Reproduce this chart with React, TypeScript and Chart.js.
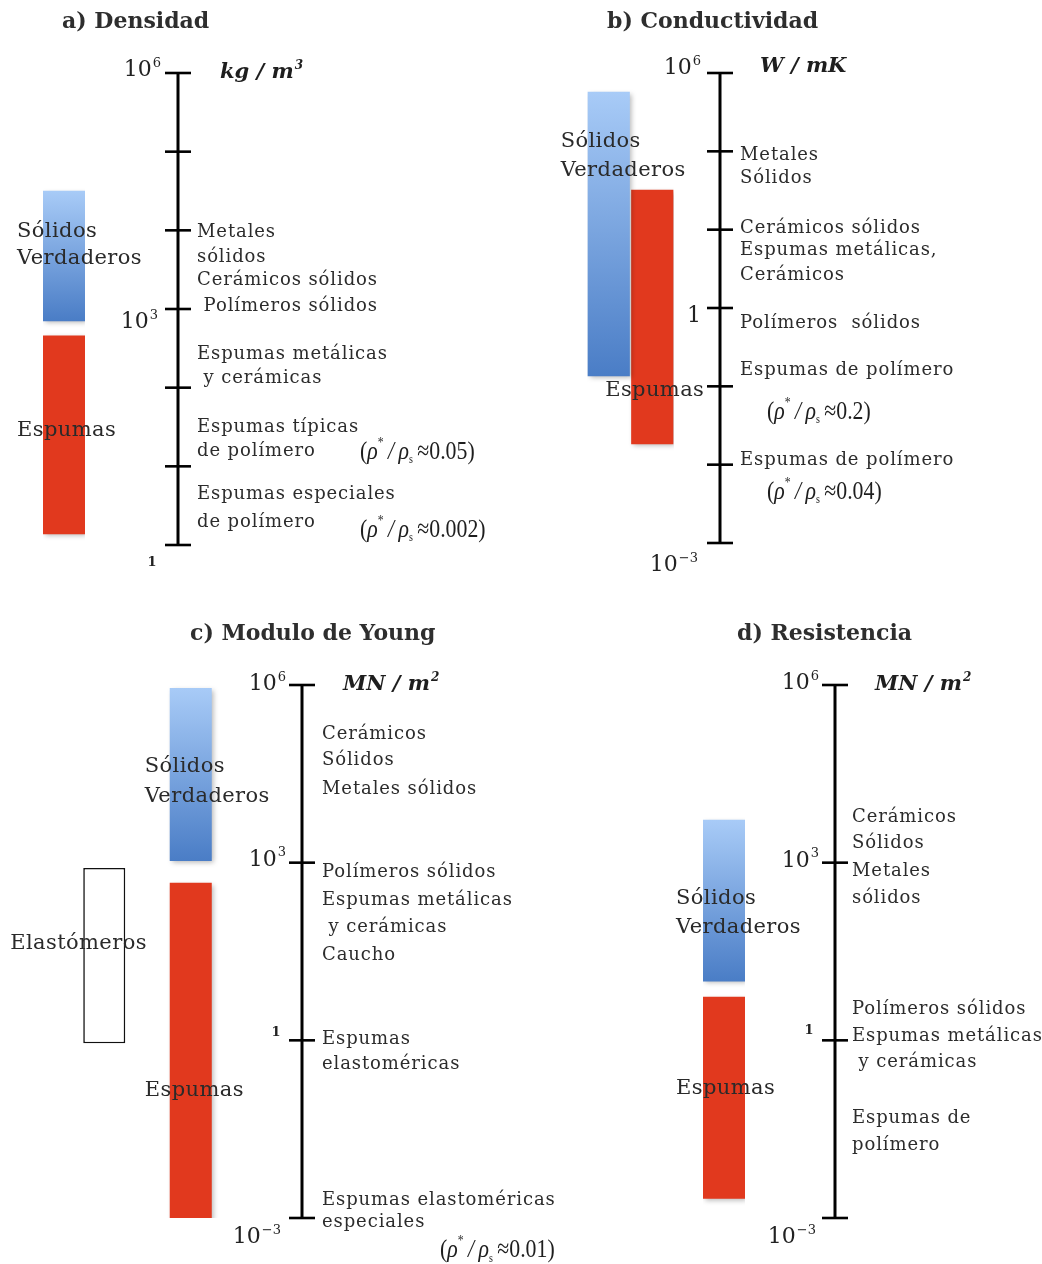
import React, { useEffect, useRef } from "react";
import { Chart, registerables } from "chart.js";

Chart.register(...registerables);

// ================= DATA =================
// a) Densidad — axis unit: log10(kg/m³)
const densityCategories = ["Materiales"];
const densitySolids = [[2.85, 4.5]];
const densityFoams = [[0.14, 2.66]];
const densityTicks = [0, 1, 2, 3, 4, 5, 6];
const densityTickLabels = ["1", "", "", "10^3", "", "", "10^6"];
const densityUnit = "kg / m^3";
const densitySolidsText = ["Sólidos", "Verdaderos"];
const densitySolidsTextAt = [3.98, 3.64];
const densityFoamsText = ["Espumas"];
const densityFoamsTextAt = [1.46];
const densityNotes = [
  { at: 3.97, text: "Metales" },
  { at: 3.66, text: "sólidos" },
  { at: 3.36, text: "Cerámicos sólidos" },
  { at: 3.04, text: " Polímeros sólidos" },
  { at: 2.43, text: "Espumas metálicas" },
  { at: 2.12, text: " y cerámicas" },
  { at: 1.5, text: "Espumas típicas" },
  { at: 1.19, text: "de polímero" },
  { at: 0.65, text: "Espumas especiales" },
  { at: 0.29, text: "de polímero" },
];
const densityRatios = [
  { at: 1.21, value: "0.05" },
  { at: 0.22, value: "0.002" },
];

// b) Conductividad — axis unit: tick position (0 = 10⁻³, 3 = 1, 6 = 10⁶)
const conductivityCategories = ["Materiales"];
const conductivitySolids = [[2.13, 5.76]];
const conductivityFoams = [[1.26, 4.51]];
const conductivityTicks = [0, 1, 2, 3, 4, 5, 6];
const conductivityTickLabels = ["10^-3", "", "", "1", "", "", "10^6"];
const conductivityUnit = "W / mK";
const conductivitySolidsText = ["Sólidos", "Verdaderos"];
const conductivitySolidsTextAt = [5.12, 4.76];
const conductivityFoamsText = ["Espumas"];
const conductivityFoamsTextAt = [1.95];
const conductivityNotes = [
  { at: 4.95, text: "Metales" },
  { at: 4.66, text: "Sólidos" },
  { at: 4.02, text: "Cerámicos sólidos" },
  { at: 3.73, text: "Espumas metálicas," },
  { at: 3.42, text: "Cerámicos" },
  { at: 2.81, text: "Polímeros  sólidos" },
  { at: 2.21, text: "Espumas de polímero" },
  { at: 1.06, text: "Espumas de polímero" },
];
const conductivityRatios = [
  { at: 1.7, value: "0.2" },
  { at: 0.68, value: "0.04" },
];

// c) Modulo de Young — axis unit: log10(MN/m²)
const youngCategories = ["Elastómeros", "Sólidos y espumas"];
const youngElastomers = [[-0.05, 2.91], null];
const youngSolids = [null, [3.03, 5.95]];
const youngFoams = [null, [-3.04, 2.66]];
const youngTicks = [-3, 0, 3, 6];
const youngTickLabels = ["10^-3", "1", "10^3", "10^6"];
const youngUnit = "MN / m^2";
const youngElastomersText = ["Elastómeros"];
const youngElastomersTextAt = [1.64];
const youngSolidsText = ["Sólidos", "Verdaderos"];
const youngSolidsTextAt = [4.62, 4.11];
const youngFoamsText = ["Espumas"];
const youngFoamsTextAt = [-0.84];
const youngNotes = [
  { at: 5.17, text: "Cerámicos" },
  { at: 4.72, text: "Sólidos" },
  { at: 4.23, text: "Metales sólidos" },
  { at: 2.83, text: "Polímeros sólidos" },
  { at: 2.37, text: "Espumas metálicas" },
  { at: 1.91, text: " y cerámicas" },
  { at: 1.44, text: "Caucho" },
  { at: 0.02, text: "Espumas" },
  { at: -0.4, text: "elastoméricas" },
  { at: -2.7, text: "Espumas elastoméricas" },
  { at: -3.08, text: "especiales" },
];
const youngRatios = [{ at: -3.51, value: "0.01" }];

// d) Resistencia — axis unit: log10(MN/m²)
const strengthCategories = ["Materiales"];
const strengthSolids = [[1.0, 3.72]];
const strengthFoams = [[-2.67, 0.73]];
const strengthTicks = [-3, 0, 3, 6];
const strengthTickLabels = ["10^-3", "1", "10^3", "10^6"];
const strengthUnit = "MN / m^2";
const strengthSolidsText = ["Sólidos", "Verdaderos"];
const strengthSolidsTextAt = [2.4, 1.9];
const strengthFoamsText = ["Espumas"];
const strengthFoamsTextAt = [-0.81];
const strengthNotes = [
  { at: 3.77, text: "Cerámicos" },
  { at: 3.32, text: "Sólidos" },
  { at: 2.86, text: "Metales" },
  { at: 2.4, text: "sólidos" },
  { at: 0.53, text: "Polímeros sólidos" },
  { at: 0.07, text: "Espumas metálicas" },
  { at: -0.37, text: " y cerámicas" },
  { at: -1.31, text: "Espumas de" },
  { at: -1.77, text: "polímero" },
];
const strengthRatios: { at: number; value: string }[] = [];

// ================= STYLE / LAYOUT =================
const SERIF = '"DejaVu Serif", serif';
const TIMES = '"Liberation Serif", serif';
const TEXT_COLOR = "#2c2c2c";
const RED = "#e1391e";
const BLUE_TOP = "#a8cbf7";
const BLUE_BOTTOM = "#4a7dc6";

type Placement = { x: number; dy: number; align?: string; small?: boolean };

const PANELS = [
  {
    title: "a) Densidad",
    categories: densityCategories,
    series: [
      { label: "Sólidos Verdaderos", kind: "solid", data: densitySolids, text: densitySolidsText, textAt: densitySolidsTextAt },
      { label: "Espumas", kind: "foam", data: densityFoams, text: densityFoamsText, textAt: densityFoamsTextAt },
    ],
    grouped: false,
    ticks: densityTicks,
    tickLabels: densityTickLabels,
    unit: densityUnit,
    notes: densityNotes,
    ratios: densityRatios,
    layout: {
      canvas: { x: 0, y: 0, w: 520, h: 592 },
      plot: { left: 43, right: 85, top: 73, bottom: 545 },
      yMin: 0, yMax: 6,
      barPercentage: 1,
      axisX: 178,
      titlePos: { x: 62, y: 22 },
      labelPlacement: {
        "6": { x: 161, dy: -5 },
        "3": { x: 158, dy: 11 },
        "0": { x: 152, dy: 18, align: "center", small: true },
      } as Record<string, Placement>,
      unitPos: { x: 220, y: 70 },
      notesX: 197,
      ratioX: 360,
      textDx: [-26, -26],
    },
  },
  {
    title: "b) Conductividad",
    categories: conductivityCategories,
    series: [
      { label: "Sólidos Verdaderos", kind: "solid", data: conductivitySolids, text: conductivitySolidsText, textAt: conductivitySolidsTextAt },
      { label: "Espumas", kind: "foam", data: conductivityFoams, text: conductivityFoamsText, textAt: conductivityFoamsTextAt },
    ],
    grouped: true,
    ticks: conductivityTicks,
    tickLabels: conductivityTickLabels,
    unit: conductivityUnit,
    notes: conductivityNotes,
    ratios: conductivityRatios,
    layout: {
      canvas: { x: 520, y: 0, w: 522, h: 592 },
      plot: { left: 587, right: 674, top: 73, bottom: 543 },
      yMin: 0, yMax: 6,
      barPercentage: 0.97,
      axisX: 720,
      titlePos: { x: 607, y: 22 },
      labelPlacement: {
        "6": { x: 701, dy: -7 },
        "3": { x: 701, dy: 6 },
        "0": { x: 698, dy: 20 },
      } as Record<string, Placement>,
      unitPos: { x: 760, y: 64 },
      notesX: 740,
      ratioX: 767,
      textDx: [-27, -26],
    },
  },
  {
    title: "c) Modulo de Young",
    categories: youngCategories,
    series: [
      { label: "Elastómeros", kind: "elastomer", data: youngElastomers, text: youngElastomersText, textAt: youngElastomersTextAt },
      { label: "Sólidos Verdaderos", kind: "solid", data: youngSolids, text: youngSolidsText, textAt: youngSolidsTextAt },
      { label: "Espumas", kind: "foam", data: youngFoams, text: youngFoamsText, textAt: youngFoamsTextAt },
    ],
    grouped: false,
    ticks: youngTicks,
    tickLabels: youngTickLabels,
    unit: youngUnit,
    notes: youngNotes,
    ratios: youngRatios,
    layout: {
      canvas: { x: 0, y: 600, w: 600, h: 664 },
      plot: { left: 61, right: 234, top: 685, bottom: 1218 },
      yMin: -3, yMax: 6,
      barPercentage: 0.486,
      axisX: 302,
      titlePos: { x: 190, y: 634 },
      labelPlacement: {
        "6": { x: 286, dy: -3 },
        "3": { x: 286, dy: -5 },
        "0": { x: 276, dy: -8, align: "center", small: true },
        "-3": { x: 281, dy: 17 },
      } as Record<string, Placement>,
      unitPos: { x: 343, y: 682 },
      notesX: 322,
      ratioX: 440,
      textDx: [-73, -25, -25],
    },
  },
  {
    title: "d) Resistencia",
    categories: strengthCategories,
    series: [
      { label: "Sólidos Verdaderos", kind: "solid", data: strengthSolids, text: strengthSolidsText, textAt: strengthSolidsTextAt },
      { label: "Espumas", kind: "foam", data: strengthFoams, text: strengthFoamsText, textAt: strengthFoamsTextAt },
    ],
    grouped: false,
    ticks: strengthTicks,
    tickLabels: strengthTickLabels,
    unit: strengthUnit,
    notes: strengthNotes,
    ratios: strengthRatios,
    layout: {
      canvas: { x: 600, y: 600, w: 442, h: 664 },
      plot: { left: 703, right: 745, top: 685, bottom: 1218 },
      yMin: -3, yMax: 6,
      barPercentage: 1,
      axisX: 835,
      titlePos: { x: 737, y: 634 },
      labelPlacement: {
        "6": { x: 819, dy: -4 },
        "3": { x: 819, dy: -4 },
        "0": { x: 809, dy: -10, align: "center", small: true },
        "-3": { x: 816, dy: 17 },
      } as Record<string, Placement>,
      unitPos: { x: 875, y: 682 },
      notesX: 852,
      ratioX: 870,
      textDx: [-27, -27],
    },
  },
];

// ================= DRAW HELPERS =================
function drawPower(ctx: CanvasRenderingContext2D, label: string, x: number, yMid: number, align: string, size: number, family: string, style = "") {
  const [base, expRaw] = label.split("^");
  const exp = expRaw ? expRaw.replace("-", "\u2212") : "";
  const es = Math.round(size * 0.58);
  ctx.font = `${style} ${size}px ${family}`;
  const wb = ctx.measureText(base).width;
  let we = 0;
  if (exp) {
    ctx.font = `${style} ${es}px ${family}`;
    we = ctx.measureText(exp).width + 1;
  }
  const total = wb + we;
  const x0 = align === "right" ? x - total : align === "center" ? x - total / 2 : x;
  const baseline = yMid + size * 0.36;
  ctx.textAlign = "left";
  ctx.textBaseline = "alphabetic";
  ctx.font = `${style} ${size}px ${family}`;
  ctx.fillText(base, x0, baseline);
  if (exp) {
    ctx.font = `${style} ${es}px ${family}`;
    ctx.fillText(exp, x0 + wb + 1, baseline - size * 0.42);
  }
}

function drawRatio(ctx: CanvasRenderingContext2D, value: string, x: number, yMid: number, size: number) {
  const baseline = size * 0.34;
  ctx.save();
  ctx.translate(x, yMid);
  ctx.scale(0.84, 1);
  let cx = 0;
  ctx.textAlign = "left";
  ctx.textBaseline = "alphabetic";
  const seg = (t: string, font: string, dy = 0) => {
    ctx.font = font;
    ctx.fillText(t, cx, baseline + dy);
    cx += ctx.measureText(t).width;
  };
  seg("(", `${size}px ${TIMES}`);
  seg("\u03c1", `italic ${size}px ${TIMES}`);
  seg("*", `${Math.round(size * 0.55)}px ${TIMES}`, -size * 0.45);
  seg("\u2009/\u2009", `italic ${size}px ${TIMES}`);
  seg("\u03c1", `italic ${size}px ${TIMES}`);
  seg("s", `${Math.round(size * 0.45)}px ${TIMES}`, size * 0.18);
  seg("\u2009\u2248", `${size}px ${TIMES}`);
  seg(value + ")", `${size}px ${TIMES}`);
  ctx.restore();
}

function makeFigurePlugin(panel: any) {
  const L = panel.layout;
  return {
    id: "figure",
    beforeDatasetDraw(chart: any, args: any) {
      const ds = chart.data.datasets[args.index];
      if (ds.shadow) {
        const c = chart.ctx;
        c.save();
        c.shadowColor = "rgba(0,0,0,0.28)";
        c.shadowBlur = 5;
        c.shadowOffsetX = 2;
        c.shadowOffsetY = 2;
      }
    },
    afterDatasetDraw(chart: any, args: any) {
      const ds = chart.data.datasets[args.index];
      if (ds.shadow) chart.ctx.restore();
    },
    afterDatasetsDraw(chart: any) {
      const ctx: CanvasRenderingContext2D = chart.ctx;
      const y = chart.scales.y;
      const ox = L.canvas.x;
      const oy = L.canvas.y;
      const ax = L.axisX - ox;
      ctx.save();

      // title
      ctx.fillStyle = "#2e2e2e";
      ctx.font = `bold 22px ${SERIF}`;
      ctx.textAlign = "left";
      ctx.textBaseline = "middle";
      ctx.fillText(panel.title, L.titlePos.x - ox, L.titlePos.y - oy);

      // axis line and tick marks
      ctx.strokeStyle = "#000";
      ctx.lineCap = "butt";
      ctx.lineWidth = 3;
      const yTop = y.getPixelForValue(L.yMax);
      const yBot = y.getPixelForValue(L.yMin);
      ctx.beginPath();
      ctx.moveTo(ax, yTop - 1);
      ctx.lineTo(ax, yBot + 1);
      ctx.stroke();
      ctx.lineWidth = 2.6;
      panel.ticks.forEach((t: number) => {
        const py = y.getPixelForValue(t);
        ctx.beginPath();
        ctx.moveTo(ax - 13, py);
        ctx.lineTo(ax + 13, py);
        ctx.stroke();
      });

      // tick labels
      ctx.fillStyle = "#222";
      panel.ticks.forEach((t: number, i: number) => {
        const lab = panel.tickLabels[i];
        if (!lab) return;
        const pl: Placement = L.labelPlacement[String(t)];
        if (!pl) return;
        const py = y.getPixelForValue(t) + pl.dy;
        if (pl.small) {
          ctx.font = `bold 13px ${SERIF}`;
          ctx.textAlign = "center";
          ctx.textBaseline = "middle";
          ctx.fillText(lab, pl.x - ox, py);
        } else {
          drawPower(ctx, lab, pl.x - ox, py, pl.align || "right", 22, SERIF);
        }
      });

      // unit
      ctx.fillStyle = "#1e1e1e";
      drawPower(ctx, panel.unit, L.unitPos.x - ox, L.unitPos.y - oy, "left", 21, SERIF, "italic bold");

      // notes beside the axis
      ctx.fillStyle = TEXT_COLOR;
      ctx.font = `18px ${SERIF}`;
      (ctx as any).letterSpacing = "0.9px";
      ctx.textAlign = "left";
      ctx.textBaseline = "middle";
      panel.notes.forEach((n: any) => {
        ctx.fillText(n.text, L.notesX - ox, y.getPixelForValue(n.at));
      });
      (ctx as any).letterSpacing = "0px";

      // density ratio notes
      ctx.fillStyle = "#1e1e1e";
      panel.ratios.forEach((r: any) => {
        drawRatio(ctx, r.value, L.ratioX - ox, y.getPixelForValue(r.at), 26);
      });

      // series labels
      ctx.fillStyle = "#2a2a2a";
      ctx.font = `21px ${SERIF}`;
      (ctx as any).letterSpacing = "0.4px";
      ctx.textAlign = "left";
      ctx.textBaseline = "middle";
      chart.data.datasets.forEach((ds: any, di: number) => {
        const meta = chart.getDatasetMeta(di);
        const idx = ds.data.findIndex((v: any) => v !== null);
        const el = meta.data[idx];
        if (!el) return;
        const left = el.x - el.width / 2;
        ds.text.forEach((line: string, li: number) => {
          ctx.fillText(line, left + L.textDx[di], y.getPixelForValue(ds.textAt[li]));
        });
      });
      (ctx as any).letterSpacing = "0px";
      ctx.restore();
    },
  };
}

function blueFill(c: any) {
  const chart = c.chart;
  const ys = chart.scales && chart.scales.y;
  const raw = c.raw;
  if (!ys || !Array.isArray(raw)) return BLUE_BOTTOM;
  const y0 = ys.getPixelForValue(raw[1]);
  const y1 = ys.getPixelForValue(raw[0]);
  if (!Number.isFinite(y0) || !Number.isFinite(y1) || y0 === y1) return BLUE_BOTTOM;
  const g = chart.ctx.createLinearGradient(0, y0, 0, y1);
  g.addColorStop(0, BLUE_TOP);
  g.addColorStop(1, BLUE_BOTTOM);
  return g;
}

function Panel({ panel }: { panel: any }) {
  const ref = useRef<HTMLCanvasElement | null>(null);
  const L = panel.layout;
  useEffect(() => {
    if (!ref.current) return;
    const datasets = panel.series.map((s: any) => ({
      label: s.label,
      data: s.data,
      text: s.text,
      textAt: s.textAt,
      shadow: s.kind !== "elastomer",
      backgroundColor: s.kind === "solid" ? blueFill : s.kind === "foam" ? RED : "#ffffff",
      borderColor: "#111111",
      borderWidth: s.kind === "elastomer" ? 1.6 : 0,
      borderSkipped: false,
      grouped: panel.grouped,
      barPercentage: L.barPercentage,
      categoryPercentage: 1,
    }));
    const chart = new Chart(ref.current, {
      type: "bar",
      data: { labels: panel.categories, datasets },
      options: {
        animation: false,
        responsive: false,
        maintainAspectRatio: false,
        events: [],
        layout: {
          padding: {
            left: L.plot.left - L.canvas.x,
            right: L.canvas.x + L.canvas.w - L.plot.right,
            top: L.plot.top - L.canvas.y,
            bottom: L.canvas.y + L.canvas.h - L.plot.bottom,
          },
        },
        scales: {
          x: { display: false },
          y: { type: "linear", display: false, min: L.yMin, max: L.yMax },
        },
        plugins: { legend: { display: false }, tooltip: { enabled: false }, title: { display: false } },
      } as any,
      plugins: [makeFigurePlugin(panel) as any],
    });
    chart.update();
    return () => chart.destroy();
  }, [panel]);
  return (
    <canvas
      ref={ref}
      width={L.canvas.w}
      height={L.canvas.h}
      style={{ position: "absolute", left: L.canvas.x, top: L.canvas.y, width: L.canvas.w, height: L.canvas.h }}
    />
  );
}

export default function App() {
  return (
    <div style={{ position: "absolute", left: 0, top: 0, width: 1042, height: 1264, background: "#ffffff", overflow: "hidden" }}>
      {PANELS.map((p) => (
        <Panel key={p.title} panel={p} />
      ))}
    </div>
  );
}
